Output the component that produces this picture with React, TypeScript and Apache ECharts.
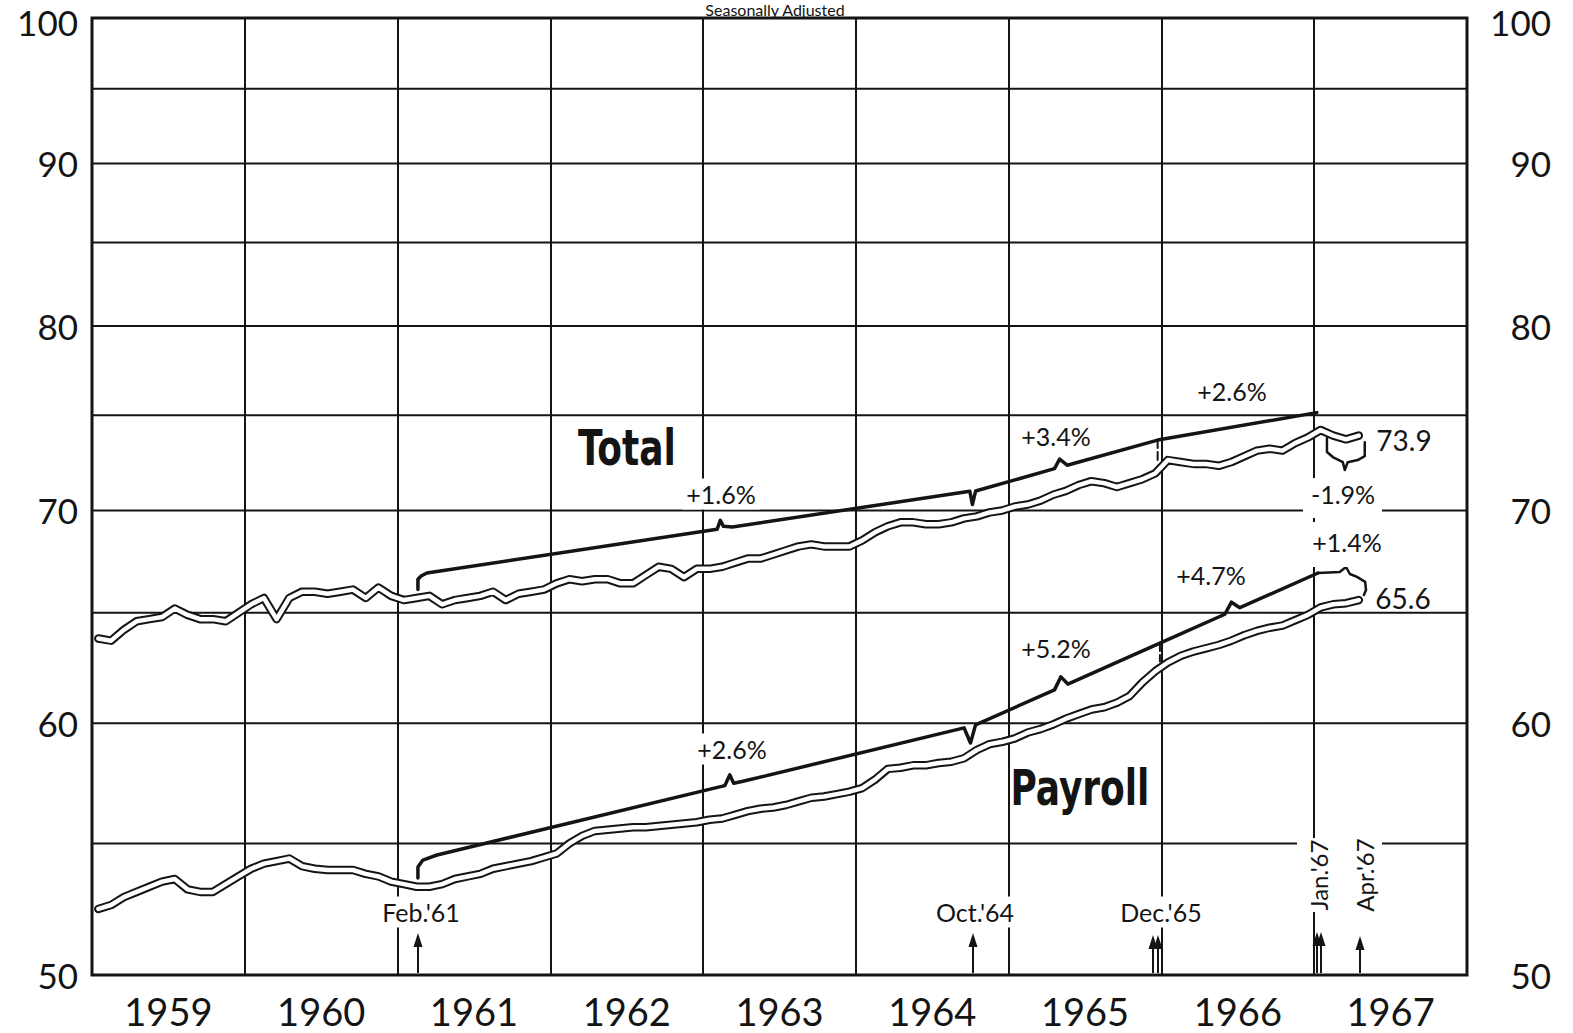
import React, { useEffect, useRef } from "react";
import * as echarts from "echarts";

// ---------- data ----------
const yearLabels = ["1959", "1960", "1961", "1962", "1963", "1964", "1965", "1966", "1967"];
const yTickLabels = [50, 60, 70, 80, 90, 100];
const gridValues = [55, 60, 65, 70, 75, 80, 85, 90, 95];

// monthly, Jan 1959 .. Apr 1967 (seasonally adjusted, millions)
const totalValues = [
  63.8, 63.7, 64.2, 64.6, 64.7, 64.8, 65.2, 64.9, 64.7, 64.7, 64.6, 65.0,
  65.4, 65.7, 64.7, 65.7, 66.0, 66.0, 65.9, 66.0, 66.1, 65.7, 66.2, 65.8,
  65.6, 65.7, 65.8, 65.4, 65.6, 65.7, 65.8, 66.0, 65.6, 65.9, 66.0, 66.1,
  66.4, 66.6, 66.5, 66.6, 66.6, 66.4, 66.4, 66.8, 67.2, 67.1, 66.7, 67.1,
  67.1, 67.2, 67.4, 67.6, 67.6, 67.8, 68.0, 68.2, 68.3, 68.2, 68.2, 68.2,
  68.5, 68.9, 69.2, 69.4, 69.4, 69.3, 69.3, 69.4, 69.6, 69.7, 69.9, 70.0,
  70.2, 70.3, 70.5, 70.8, 71.0, 71.3, 71.5, 71.4, 71.2, 71.4, 71.6, 71.9,
  72.6, 72.5, 72.4, 72.4, 72.3, 72.5, 72.8, 73.1, 73.2, 73.1, 73.5, 73.8,
  74.2, 73.9, 73.7, 73.9,
];
const payrollValues = [
  52.45, 52.6, 52.9, 53.1, 53.3, 53.5, 53.6, 53.2, 53.1, 53.1, 53.4, 53.7,
  54.0, 54.2, 54.3, 54.4, 54.1, 54.0, 53.95, 53.95, 53.95, 53.8, 53.7, 53.5,
  53.4, 53.3, 53.3, 53.4, 53.6, 53.7, 53.8, 54.0, 54.1, 54.2, 54.3, 54.45,
  54.6, 55.0, 55.3, 55.5, 55.55, 55.6, 55.65, 55.65, 55.7, 55.75, 55.8, 55.85,
  55.95, 56.0, 56.15, 56.3, 56.4, 56.45, 56.55, 56.7, 56.85, 56.9, 57.0, 57.1,
  57.25, 57.6, 58.05, 58.1, 58.2, 58.2, 58.3, 58.35, 58.5, 58.85, 59.1, 59.2,
  59.35, 59.6, 59.75, 59.95, 60.2, 60.4, 60.6, 60.7, 60.9, 61.2, 61.8, 62.3,
  62.7, 63.0, 63.2, 63.35, 63.5, 63.7, 63.95, 64.15, 64.3, 64.4, 64.65, 64.9,
  65.25, 65.4, 65.45, 65.6,
];

// trend lines [month position, value]
const totalTrend = [
  [25.6, 66.1], [25.6, 66.6], [25.85, 66.75], [26.3, 66.9],
  [49.1, 69.05], [49.35, 69.5], [49.6, 69.2], [50.3, 69.17],
  [68.95, 70.98], [69.15, 70.3], [69.4, 70.99],
  [75.6, 72.15], [76.0, 72.65], [76.6, 72.33],
  [83.7, 73.66], [96.2, 75.14],
];
const payrollTrend = [
  [25.6, 53.64], [25.6, 54.07], [25.99, 54.34], [27.1, 54.54],
  [49.7, 57.35], [50.1, 57.8], [50.4, 57.45], [51.05, 57.52],
  [68.5, 59.8], [69.0, 59.15], [69.4, 59.93],
  [75.6, 61.47], [76.1, 62.05], [76.65, 61.73],
  [83.88, 63.59],
  [88.98, 64.93], [89.5, 65.5], [90.16, 65.24],
  [96.3, 66.9],
];
const totalBracket = [
  [97.0, 73.77], [97.0, 73.03], [97.46, 72.76], [98.25, 72.49], [98.4, 72.08],
  [98.63, 72.49], [99.42, 72.6], [99.97, 72.81], [99.97, 73.55],
];
const payrollBracket = [
  [96.3, 66.9], [98.0, 66.95], [98.5, 67.19], [98.8, 66.85], [99.36, 66.71],
  [100.0, 66.47], [100.07, 66.08], [99.9, 65.84],
];
const totalLink = [[83.7, 73.66], [83.7, 72.6]];
const payrollLink = [[83.88, 63.59], [83.88, 62.75]];

const FONT = "Lato, 'DejaVu Sans', sans-serif";
const NARROW = "'Liberation Sans Narrow', 'DejaVu Sans Condensed', sans-serif";
const INK = "#141414";

export default function App() {
  const ref = useRef<HTMLDivElement>(null);
  useEffect(() => {
    const el = ref.current as HTMLDivElement;
    const chart = echarts.init(el, null, { renderer: "svg" });
    const monthly = (vals: number[]) => vals.map((v, i) => [i + 0.5, v]);
    const lineS = (data: any[], color: string, width: number, z: number, type: any = "solid") => ({
      type: "line",
      data,
      symbol: "none",
      silent: true,
      z,
      lineStyle: { color, width, type, cap: "round", join: "round" },
    });

    const series: any[] = [
      ...gridValues.map((v) => lineS([[0, v], [108, v]], INK, 2, 1)),
      lineS(monthly(totalValues), INK, 8.5, 2),
      lineS(monthly(totalValues), "#fff", 4.5, 3),
      lineS(monthly(payrollValues), INK, 8.5, 2),
      lineS(monthly(payrollValues), "#fff", 4.5, 3),
      lineS(totalTrend, INK, 3.5, 4),
      lineS(payrollTrend, INK, 3.5, 4),
      lineS(totalBracket, INK, 2.5, 4),
      lineS(payrollBracket, INK, 2.5, 4),
      lineS(totalLink, INK, 2, 4, "dashed"),
      lineS(payrollLink, INK, 2, 4, "dashed"),
    ];

    chart.setOption({
      animation: false,
      backgroundColor: "#fff",
      grid: {
        left: 92, right: 106, top: 18, bottom: 58,
        show: true, borderColor: INK, borderWidth: 3, backgroundColor: "transparent",
      },
      xAxis: [
        {
          type: "value", min: 0, max: 108, interval: 12,
          axisLine: { show: false }, axisTick: { show: false }, axisLabel: { show: false },
          splitLine: { show: true, lineStyle: { color: INK, width: 2 } },
        },
        {
          type: "category", data: yearLabels, position: "bottom", boundaryGap: true,
          axisLine: { show: false }, axisTick: { show: false }, splitLine: { show: false },
          axisLabel: { color: INK, fontSize: 38, fontFamily: FONT, margin: 17 },
        },
      ],
      yAxis: {
        type: "log", logBase: 10, min: 50, max: 100,
        axisLine: { show: false }, axisTick: { show: false },
        axisLabel: { show: false }, splitLine: { show: false },
      },
      series,
    });

    const yPix = (v: number) => chart.convertToPixel({ yAxisIndex: 0 } as any, v) as number;
    const txt = (text: string, x: number, y: number, size: number, extra: any = {}, styleExtra: any = {}) => ({
      type: "text", x, y, z: 100, ...extra,
      style: {
        text, fontSize: size, fontFamily: FONT, fill: INK,
        align: "center", verticalAlign: "middle", ...styleExtra,
      },
    });
    const bg = { backgroundColor: "#fff", padding: [3, 4] };
    const arrow = (x: number, tip: number) => [
      { type: "line", z: 100, shape: { x1: x, y1: 973, x2: x, y2: tip + 8 }, style: { stroke: INK, lineWidth: 2 } },
      { type: "polygon", z: 100, shape: { points: [[x, tip], [x - 4.5, tip + 14], [x + 4.5, tip + 14]] }, style: { fill: INK } },
    ];
    const yLabelPos = (v: number) => Math.max(yPix(v), 22);

    const graphic: any[] = [
      ...yTickLabels.map((v) => txt(String(v), 78, yLabelPos(v), 35, {}, { align: "right" })),
      ...yTickLabels.map((v) => txt(String(v), 1551, yLabelPos(v), 35, {}, { align: "right" })),
      txt("Seasonally Adjusted", 775, 9, 16),
      txt("Total", 627, 448, 50, { scaleX: 0.8 }, { fontFamily: NARROW, fontWeight: "bold" }),
      txt("Payroll", 1080, 788, 50, { scaleX: 0.8 }, { fontFamily: NARROW, fontWeight: "bold" }),
      txt("+1.6%", 721, 494, 25, {}, bg),
      txt("+3.4%", 1056, 436, 25, {}, bg),
      txt("+2.6%", 1232, 391, 25, {}, bg),
      txt("73.9", 1404, 440, 28),
      { type: "rect", z: 99, shape: { x: 1303, y: 478, width: 79, height: 40 }, style: { fill: "#fff" } },
      txt("-1.9%", 1343, 494, 25),
      { type: "rect", z: 99, shape: { x: 1305, y: 522, width: 80, height: 45 }, style: { fill: "#fff" } },
      txt("+1.4%", 1347, 542, 25),
      txt("+4.7%", 1211, 575, 25, {}, bg),
      txt("65.6", 1403, 598, 28),
      txt("+5.2%", 1056, 648, 25, {}, bg),
      txt("+2.6%", 732, 749, 25, {}, bg),
      txt("Feb.'61", 421, 912, 25, {}, bg),
      txt("Oct.'64", 975, 912, 25, {}, bg),
      txt("Dec.'65", 1161, 912, 25, {}, bg),
      { type: "rect", z: 99, shape: { x: 1297, y: 838, width: 85, height: 74 }, style: { fill: "#fff" } },
      txt("Jan.'67", 1318, 875, 24, { rotation: Math.PI / 2 }),
      txt("Apr.'67", 1364, 875, 24, { rotation: Math.PI / 2 }),
      ...arrow(418, 933),
      ...arrow(973, 933),
      ...arrow(1153, 935),
      ...arrow(1158, 935),
      ...arrow(1317, 932),
      ...arrow(1321, 932),
      ...arrow(1360, 936),
    ];
    chart.setOption({ graphic });

    return () => chart.dispose();
  }, []);
  return (
    <div
      ref={ref}
      style={{ position: "fixed", left: 0, top: 0, width: 1573, height: 1033, background: "#fff" }}
    />
  );
}
